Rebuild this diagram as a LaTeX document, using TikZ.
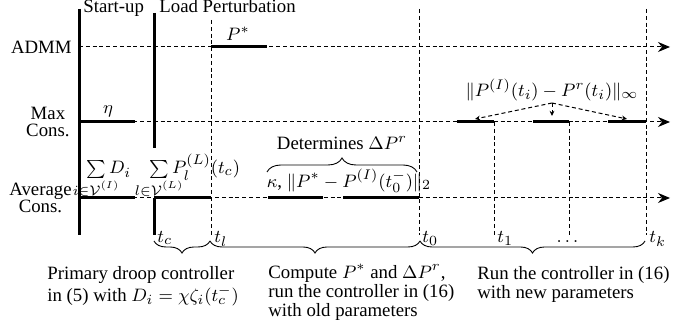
\documentclass[tikz,border=0pt]{standalone}
\usepackage{mathtools}
\usepackage{fontspec}
\setmainfont{Liberation Serif}
\usetikzlibrary{arrows.meta,decorations.pathreplacing}
\begin{document}
\begin{tikzpicture}[x=0.5pt,y=-0.5pt,
  font=\fontsize{9.4}{8.5}\selectfont,
  thickline/.style={line width=1.5pt},
  dline/.style={line width=0.5pt, dash pattern=on 2pt off 1.4pt},
  axis/.style={dline, -{Stealth[length=6pt,width=5pt]}},
  ptr/.style={dline, -{Stealth[length=2.6pt,width=2.4pt]}},
  lbl/.style={inner sep=0pt},
  brc/.style={decorate, decoration={brace, amplitude=6pt}, line width=0.45pt},
  tbrc/.style={decorate, decoration={brace, amplitude=7pt}, line width=0.45pt}]
\useasboundingbox (0,0) rectangle (691,335);

% row coordinates
\coordinate (a0) at (79,47);   \coordinate (aE) at (670,47);
\coordinate (m0) at (79,122);  \coordinate (mE) at (670,122);
\coordinate (v0) at (79,198);  \coordinate (vE) at (670,198);

% row axes
\draw[axis] (a0) -- (aE);
\draw[axis] (m0) -- (mE);
\draw[axis] (v0) -- (vE);

% vertical markers
\coordinate (su-t) at (79,9);    \coordinate (su-b) at (79,235);
\coordinate (lp-t) at (154,13);  \coordinate (lp-m) at (154,148);
\coordinate (tc-t) at (154,198); \coordinate (tc-b) at (154,235);
\coordinate (tl-t) at (211,20);  \coordinate (tl-b) at (211,235);
\coordinate (t0-t) at (419,9);   \coordinate (t0-b) at (419,235);
\coordinate (t1-t) at (494,122); \coordinate (t1-b) at (494,235);
\coordinate (t2-t) at (569,122); \coordinate (t2-b) at (569,235);
\coordinate (tk-t) at (646,9);   \coordinate (tk-b) at (646,235);

\draw[thickline] (su-t) -- (su-b);
\draw[thickline] (lp-t) -- (lp-m);
\draw[thickline] (tc-t) -- (tc-b);
\draw[dline] (tl-t) -- (tl-b);
\draw[dline] (t0-t) -- (t0-b);
\draw[dline] (t1-t) -- (t1-b);
\draw[dline] (t2-t) -- (t2-b);
\draw[dline] (tk-t) -- (tk-b);

% thick segments
\coordinate (pa1) at (211,47); \coordinate (pa2) at (267,47);
\draw[thickline] (pa1) -- (pa2);
\coordinate (e1) at (135,122);
\draw[thickline] (m0) -- (e1);
\coordinate (ma1) at (457,122); \coordinate (ma2) at (494,122);
\coordinate (mb1) at (533,122); \coordinate (mb2) at (569,122);
\coordinate (mc1) at (608,122); \coordinate (mc2) at (646,122);
\draw[thickline] (ma1) -- (ma2);
\draw[thickline] (mb1) -- (mb2);
\draw[thickline] (mc1) -- (mc2);
\coordinate (d1) at (135,198);
\coordinate (c1) at (154,198); \coordinate (c2) at (211,198);
\coordinate (k1) at (268,198); \coordinate (k2) at (323,198);
\coordinate (k3) at (343,198); \coordinate (k4) at (419,198);
\draw[thickline] (v0) -- (d1);
\draw[thickline] (c1) -- (c2);
\draw[thickline] (k1) -- (k2);
\draw[thickline] (k3) -- (k4);

% row labels
\node[lbl, anchor=east] (admm) at (72,47) {ADMM};
\node[lbl, anchor=east, align=center] (maxc) at (70,122) {Max\\Cons.};
\node[lbl, anchor=east, align=center] (avgc) at (72,198) {Average\\Cons.};

% top labels
\node[lbl, anchor=base west] (startup) at (83,13) {Start-up};
\node[lbl, anchor=base west] (loadp) at (159,13) {Load Perturbation};

% value labels
\node[lbl, anchor=base] (pstar) at (238,41) {$P^*$};
\node[lbl, anchor=base] (eta) at (108,114) {$\eta$};
\node[lbl, anchor=base west] (sumd) at (86,174)
  {$\sum\limits_{\mathclap{i\in\mathcal{V}^{(I)}}} D_i$};
\node[lbl, anchor=base west] (sump) at (149,174)
  {$\sum\limits_{\mathclap{l\in\mathcal{V}^{(L)}}} P_l^{(L)}(t_c)$};
\node[lbl] (det) at (342,143) {Determines $\Delta P^r$};
\node[lbl] (kap) at (349,181) {$\kappa$, $\|P^* - P^{(I)}(t_0^-)\|_2$};
\node[lbl] (inf) at (552,90) {$\|P^{(I)}(t_i) - P^r(t_i)\|_\infty$};

% top brace
\coordinate (tb1) at (267,172); \coordinate (tb2) at (417,172);
\draw[tbrc] (tb1) -- (tb2);

% pointers from the infinity norm label
\coordinate (src) at (552,103);
\coordinate (q1) at (475,119);
\coordinate (q2) at (552,116);
\coordinate (q3) at (627,119);
\draw[ptr] (src) -- (q1);
\draw[ptr] (src) -- (q2);
\draw[ptr] (src) -- (q3);

% time labels
\node[lbl, anchor=base west] (ltc) at (157,243) {$t_c$};
\node[lbl, anchor=base west] (ltl) at (214,243) {$t_l$};
\node[lbl, anchor=base west] (lt0) at (422,243) {$t_0$};
\node[lbl, anchor=base west] (lt1) at (497,243) {$t_1$};
\node[lbl, anchor=base] (ldots) at (569,243) {$\dots$};
\node[lbl, anchor=base west] (ltk) at (649,243) {$t_k$};

% bottom braces
\coordinate (b0) at (154,241); \coordinate (b1) at (210,241);
\coordinate (b2) at (420,241); \coordinate (b3) at (645,241);
\draw[brc] (b1) -- (b0);
\draw[brc] (b2) -- (b1);
\draw[brc] (b3) -- (b2);

% descriptions
\node[lbl, anchor=north west, align=left] (desc1) at (47,266)
  {Primary droop controller\\in (5) with $D_i = \chi\zeta_i(t_c^-)$};
\node[lbl, anchor=north west, align=left] (desc2) at (268,264)
  {Compute $P^*$ and $\Delta P^r$,\\run the controller in (16)\\with old parameters};
\node[lbl, anchor=north west, align=left] (desc3) at (477,266)
  {Run the controller in (16)\\with new parameters};
\end{tikzpicture}
\end{document}
